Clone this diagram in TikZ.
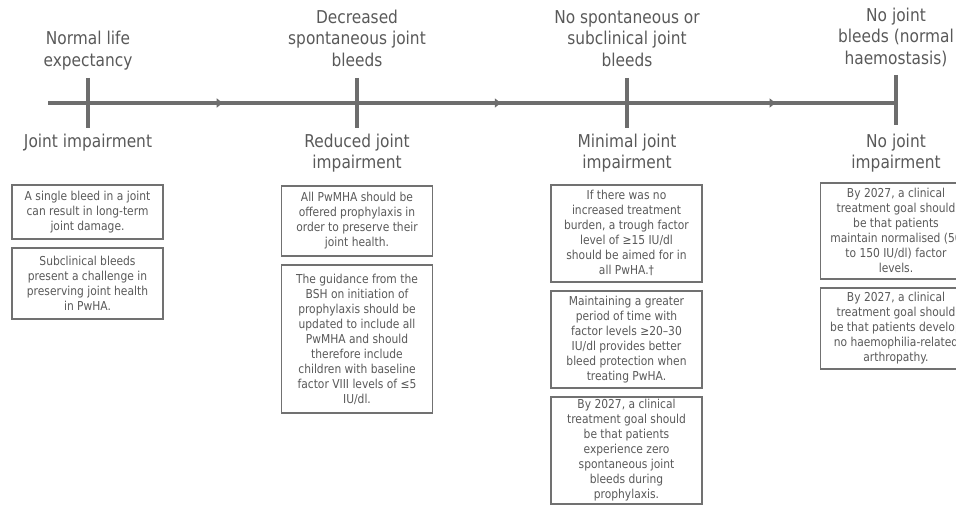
\documentclass[tikz,border=0pt]{standalone}
\usepackage{fontspec}
\setmainfont{DejaVu Sans}[FakeStretch=0.87]
\usepackage{xcolor}
\usetikzlibrary{positioning,arrows.meta,decorations.markings}
\definecolor{linegray}{HTML}{6D6D6D}
\definecolor{textgray}{HTML}{595959}
\definecolor{boxgray}{HTML}{717171}

\begin{document}
\begin{tikzpicture}[x=1pt,y=-1pt,
  timeline/.style={line width=4pt, draw=linegray},
  heading/.style={font=\fontsize{17.7}{21.5}\selectfont, text=textgray, align=center, inner sep=0pt},
  infobox/.style={draw=boxgray, line width=1.8pt, font=\fontsize{12.3}{15}\selectfont, text=textgray,
    align=center, minimum width=151pt, inner sep=2pt, anchor=north}]
\useasboundingbox (0,0) rectangle (956,505);
\clip (0,0) rectangle (956,505);

% Timeline with four milestones
\coordinate (start) at (48,103);
\coordinate (t1) at (88,103);
\coordinate (t2) at (357,103);
\coordinate (t3) at (627,103);
\coordinate (t4) at (896,103);
\draw[timeline, postaction={decorate}, decoration={markings,
    mark=at position 0.206 with {\arrow{Triangle[length=6pt,width=9pt]}},
    mark=at position 0.534 with {\arrow{Triangle[length=6pt,width=9pt]}},
    mark=at position 0.858 with {\arrow{Triangle[length=6pt,width=9pt]}}}]
  (start) -- (t4);
\foreach \t in {t1,t2,t3} \draw[timeline] ([yshift=25pt]\t) -- ([yshift=-25pt]\t);
\draw[timeline] ([yshift=28pt]t4) -- ([yshift=-22pt]t4);

% Bleed outcomes (above the line)
\node[heading, anchor=south] (h1) at (88,73) {Normal life\\expectancy\strut};
\node[heading, anchor=south] (h2) at (357,73) {Decreased\\spontaneous joint\\bleeds\strut};
\node[heading, anchor=south] (h3) at (627,73) {No spontaneous or\\subclinical joint\\bleeds\strut};
\node[heading, anchor=south] (h4) at (896,71) {No joint\\bleeds (normal\\haemostasis)\strut};

% Joint outcomes (below the line)
\node[heading, anchor=north] (j1) at (88,132) {\strut Joint impairment};
\node[heading, anchor=north] (j2) at (357,132) {\strut Reduced joint\\impairment};
\node[heading, anchor=north] (j3) at (627,132) {\strut Minimal joint\\impairment};
\node[heading, anchor=north] (j4) at (896,132) {\strut No joint\\impairment};

% Column 1
\node[infobox, minimum height=54pt] (b11) at (87.5,184) {A single bleed in a joint\\can result in long-term\\joint damage.};
\node[infobox, minimum height=71pt] (b12) at (87.5,247) {Subclinical bleeds\\present a challenge in\\preserving joint health\\in PwHA.};

% Column 2
\node[infobox, minimum height=70pt] (b21) at (357,185) {All PwMHA should be\\offered prophylaxis in\\order to preserve their\\joint health.};
\node[infobox, minimum height=148pt] (b22) at (357,264) {The guidance from the\\BSH on initiation of\\prophylaxis should be\\updated to include all\\PwMHA and should\\therefore include\\children with baseline\\factor VIII levels of ≤5\\IU/dl.};

% Column 3
\node[infobox, minimum height=97pt] (b31) at (626.5,184) {If there was no\\increased treatment\\burden, a trough factor\\level of ≥15 IU/dl\\should be aimed for in\\all PwHA.†};
\node[infobox, minimum height=97pt] (b32) at (626.5,290) {Maintaining a greater\\period of time with\\factor levels ≥20–30\\IU/dl provides better\\bleed protection when\\treating PwHA.};
\node[infobox, minimum height=107pt] (b33) at (626.5,396) {By 2027, a clinical\\treatment goal should\\be that patients\\experience zero\\spontaneous joint\\bleeds during\\prophylaxis.};

% Column 4
\node[infobox, minimum height=96pt] (b41) at (896,182) {By 2027, a clinical\\treatment goal should\\be that patients\\maintain normalised (50\\to 150 IU/dl) factor\\levels.};
\node[infobox, minimum height=81pt] (b42) at (896,287) {By 2027, a clinical\\treatment goal should\\be that patients develop\\no haemophilia-related\\arthropathy.};

\end{tikzpicture}
\end{document}
